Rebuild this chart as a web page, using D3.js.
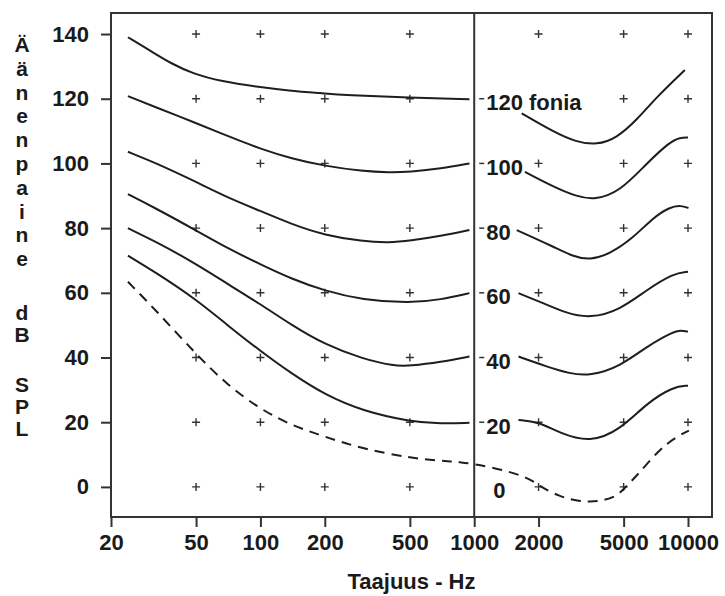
<!DOCTYPE html>
<html>
<head>
<meta charset="utf-8">
<script src="https://cdn.jsdelivr.net/npm/d3@7"></script>
<style>
  body { margin: 0; background: #fff; }
  text { font-family: "Liberation Sans", Arial, Helvetica, sans-serif; font-weight: bold; fill: #1a1a1a; }
</style>
</head>
<body>
<script>
// equal loudness contours: [Hz, dB SPL]
var phon120L = [[24,139],[32,134],[38,131],[48,127.8],[66,125.3],[96,123.7],[136,122.5],[194,121.7],[250,121.1],[500,120.3],[950,119.8]];
var phon100L = [[24,120.8],[32,117.5],[50,112.5],[70,108.5],[100,104.5],[140,101.5],[200,99.2],[300,97.6],[400,97.2],[500,97.4],[700,98.4],[950,100]];
var phon80L  = [[24,103.6],[32,100.3],[50,94.3],[70,89.5],[100,85.3],[140,81.2],[200,77.8],[300,75.9],[400,75.5],[500,76.1],[700,77.6],[950,79.4]];
var phon60L  = [[24,90.5],[32,86.3],[50,79.3],[70,73.8],[100,68.8],[140,64.3],[200,60.6],[300,57.8],[500,56.8],[700,57.9],[950,59.9]];
var phon40L  = [[24,80],[32,76],[50,69],[70,62.8],[100,56.5],[140,50],[200,44],[300,39.6],[420,37.4],[500,37.4],[700,38.6],[950,40.3]];
var phon20L  = [[24,71.5],[32,66.5],[50,58],[70,50],[100,42],[140,35],[200,28.5],[300,23.5],[500,20.2],[700,19.5],[950,19.8]];

var phon120R = [[1667,115.5],[2344,109.8],[3000,106.6],[3740,105.7],[4636,107.8],[5750,113.4],[7130,120.5],[9670,128.9]];
var phon100R = [[1727,97.4],[2344,92.8],[3000,89.8],[3670,88.7],[4804,91.3],[6410,100],[8240,106.7],[9170,108],[10000,108]];
var phon80R  = [[1581,79.4],[2344,74.3],[2900,71.2],[3480,70.1],[4300,72],[5550,77],[6800,83],[8240,86.6],[9300,87],[10050,86.2]];
var phon60R  = [[1611,59.9],[2104,56.8],[2700,53.7],[3480,52.1],[4804,54.7],[6410,60.9],[8530,66],[10000,66.5]];
var phon40R  = [[1611,40.3],[2183,37.2],[2800,35],[3480,34.3],[4804,37.2],[6410,43.4],[8530,48],[9300,48.4],[10000,48]];
var phon20R  = [[1611,20.7],[1990,20.2],[2520,16.6],[3480,13.7],[4804,17.6],[6410,25.9],[8530,31],[10000,31.3]];

// hearing threshold (dashed)
var threshold = [[24,63.4],[32,55],[50,41],[70,31.5],[100,24],[140,19],[200,15.5],[300,11.8],[500,9],[700,8],[850,7.8],
                 [1180,6.3],[1770,3.2],[2030,0.1],[2520,-3],[3000,-4.3],[3500,-4.6],[4000,-4.2],[4620,-3],[5140,0.1],
                 [5900,4.2],[7300,11.4],[8800,15.5],[10100,17.4]];

var xTicks = [20, 50, 100, 200, 500, 1000, 2000, 5000, 10000];
var yTicks = [0, 20, 40, 60, 80, 100, 120, 140];
var crossFreqs = [50, 100, 200, 500, 2000, 5000, 10000];
var phonLabels = ["120 fonia", "100", "80", "60", "40", "20", "0"];
var phonLevels = [120, 100, 80, 60, 40, 20, 0];
var yTitle1 = "Äänenpaine".split("");
var yTitle2 = ["d", "B"];
var yTitle3 = ["S", "P", "L"];

var W = 725, H = 596;

var svg = d3.select("body").append("svg")
    .attr("width", W)
    .attr("height", H);

var x = d3.scaleLog().domain([20, 12950]).range([111, 712]);
var y = d3.scaleLinear().domain([-9.3, 146.5]).range([517, 13]);

var line = d3.line()
    .x(function(d) { return x(d[0]); })
    .y(function(d) { return y(d[1]); })
    .curve(d3.curveBasis);

// frame
svg.append("rect")
    .attr("x", x.range()[0]).attr("y", y.range()[1])
    .attr("width", x.range()[1] - x.range()[0])
    .attr("height", y.range()[0] - y.range()[1])
    .attr("fill", "none").attr("stroke", "#333").attr("stroke-width", 2);

// 1000 Hz divider
svg.append("line")
    .attr("x1", x(1000)).attr("x2", x(1000))
    .attr("y1", y.range()[1]).attr("y2", y.range()[0])
    .attr("stroke", "#333").attr("stroke-width", 2);

// axes
var yAxis = svg.append("g")
    .attr("transform", "translate(" + x.range()[0] + ",0)")
    .call(d3.axisLeft(y).tickValues(yTicks).tickSize(10).tickSizeOuter(0).tickPadding(12));
var xAxis = svg.append("g")
    .attr("transform", "translate(0," + y.range()[0] + ")")
    .call(d3.axisBottom(x).tickValues(xTicks).tickFormat(d3.format("d")).tickSize(10).tickSizeOuter(0).tickPadding(7));

[yAxis, xAxis].forEach(function(g) {
    g.select(".domain").remove();
    g.selectAll(".tick line").attr("stroke", "#333").attr("stroke-width", 2);
    g.selectAll(".tick text")
        .attr("fill", "#1a1a1a")
        .style("font-size", "22px")
        .style("font-weight", "bold")
        .style("font-family", "'Liberation Sans', Arial, Helvetica, sans-serif");
});

// grid crosses
var crosses = [];
crossFreqs.forEach(function(f) {
    yTicks.forEach(function(v) {
        if (!(f === 2000 && v === 120)) crosses.push([f, v]);
    });
});
var cg = svg.append("g").attr("stroke", "#333").attr("stroke-width", 1.4);
cg.selectAll("path")
    .data(crosses)
    .enter()
    .append("path")
    .attr("d", function(d) {
        var cx = x(d[0]), cy = y(d[1]);
        return "M" + (cx - 4) + "," + cy + "H" + (cx + 4) + "M" + cx + "," + (cy - 4) + "V" + (cy + 4);
    });

// contours
var solid = [phon120L, phon100L, phon80L, phon60L, phon40L, phon20L,
             phon120R, phon100R, phon80R, phon60R, phon40R, phon20R];
svg.append("g").selectAll("path")
    .data(solid)
    .enter()
    .append("path")
    .attr("d", line)
    .attr("fill", "none")
    .attr("stroke", "#1e1e1e")
    .attr("stroke-width", 2);

svg.append("path")
    .datum(threshold)
    .attr("d", line)
    .attr("fill", "none")
    .attr("stroke", "#1e1e1e")
    .attr("stroke-width", 2)
    .attr("stroke-dasharray", "10,7");

// phon labels at 1000 Hz
var lab = svg.append("g");
lab.selectAll("line")
    .data(phonLevels.filter(function(v) { return v > 0; }))
    .enter()
    .append("line")
    .attr("x1", x(1000) + 5).attr("x2", x(1000) + 10)
    .attr("y1", function(d) { return y(d); })
    .attr("y2", function(d) { return y(d); })
    .attr("stroke", "#333").attr("stroke-width", 1.5);
lab.selectAll("text")
    .data(phonLabels)
    .enter()
    .append("text")
    .attr("x", function(d, i) { return x(1000) + (phonLevels[i] === 0 ? 19 : 12); })
    .attr("y", function(d, i) { return y(phonLevels[i]) + 11.5; })
    .style("font-size", "22px")
    .text(function(d) { return d; });

// axis titles
svg.append("text")
    .attr("x", (x.range()[0] + x.range()[1]) / 2)
    .attr("y", 589)
    .attr("text-anchor", "middle")
    .style("font-size", "22px")
    .text("Taajuus - Hz");

var yt = svg.append("g").style("font-size", "21px").attr("text-anchor", "middle");
yt.selectAll("text.t1").data(yTitle1).enter().append("text")
    .attr("x", 22).attr("y", function(d, i) { return 52 + i * 23.8; })
    .text(function(d) { return d; });
yt.selectAll("text.t2").data(yTitle2).enter().append("text")
    .attr("x", 22).attr("y", function(d, i) { return 320 + i * 22; })
    .text(function(d) { return d; });
yt.selectAll("text.t3").data(yTitle3).enter().append("text")
    .attr("x", 22).attr("y", function(d, i) { return 392 + i * 22; })
    .text(function(d) { return d; });
</script>
</body>
</html>
